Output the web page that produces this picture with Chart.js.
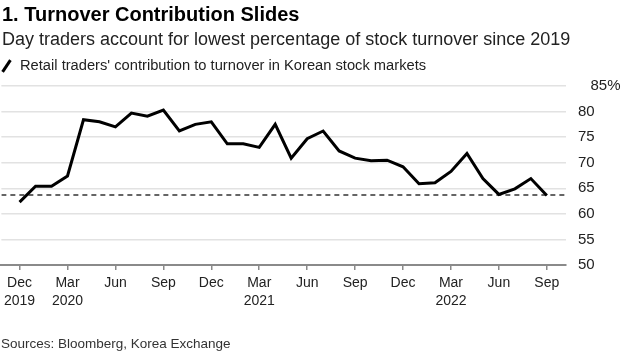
<!DOCTYPE html>
<html>
<head>
<meta charset="utf-8">
<script src="https://cdn.jsdelivr.net/npm/chart.js@4"></script>
<style>
  body { margin: 0; background: #fff; font-family: "Liberation Sans", Arial, sans-serif; }
  #wrap { position: relative; width: 623px; height: 354px; overflow: hidden; }
  canvas { position: absolute; left: 0; top: 0; }
  .txt { position: absolute; white-space: nowrap; }
  #title { left: 2px; top: 2px; font-size: 20px; line-height: 24px; font-weight: bold; color: #000; }
  #subtitle { left: 2px; top: 29px; font-size: 18px; line-height: 20px; color: #222; }
  #legend { left: 20px; top: 56px; font-size: 14.7px; line-height: 18px; color: #222; }
  #slash { position: absolute; left: 5px; top: 59px; width: 3px; height: 14px; background: #000; transform: rotate(34deg); }
  #source { left: 1px; top: 336px; font-size: 13.5px; line-height: 16px; color: #333; }
</style>
</head>
<body>
<div id="wrap">
  <canvas id="turnoverChart" width="623" height="354"></canvas>
  <div class="txt" id="title">1. Turnover Contribution Slides</div>
  <div class="txt" id="subtitle">Day traders account for lowest percentage of stock turnover since 2019</div>
  <div id="slash"></div>
  <div class="txt" id="legend">Retail traders' contribution to turnover in Korean stock markets</div>
  <div class="txt" id="source">Sources: Bloomberg, Korea Exchange</div>
</div>
<script>
// monthly, Dec 2019 .. Sep 2022
const turnoverShare = [
    62.3,
    65.4, 65.4, 67.4, 78.4, 78.0, 77.0, 79.7, 79.1, 80.3, 76.2, 77.5, 78.0,
    73.7, 73.7, 73.0, 77.5, 70.9, 74.7, 76.2, 72.3, 70.9, 70.4, 70.5, 69.2,
    65.9, 66.1, 68.3, 71.8, 66.9, 63.8, 64.9, 66.9, 63.6
];
const lowLevel = 63.7;

const monthTicks = ['Dec', 'Mar', 'Jun', 'Sep', 'Dec', 'Mar', 'Jun', 'Sep', 'Dec', 'Mar', 'Jun', 'Sep'];
const yearTicks = ['2019', '2020', '', '', '', '2021', '', '', '', '2022', '', ''];
const yTicks = [50, 55, 60, 65, 70, 75, 80, 85];

const xMin = -1.14;
const xMax = 34.2;

const ctx = document.getElementById('turnoverChart').getContext('2d');
new Chart(ctx, {
    type: 'line',
    data: {
        datasets: [{
            label: 'Retail share',
            data: turnoverShare.map((v, i) => ({ x: i, y: v })),
            borderColor: '#000',
            borderWidth: 3,
            pointRadius: 0,
            tension: 0,
            order: 1
        }, {
            label: 'Low',
            data: [{ x: xMin, y: lowLevel }, { x: xMax, y: lowLevel }],
            borderColor: '#333',
            borderWidth: 1.5,
            borderDash: [5, 4],
            pointRadius: 0,
            order: 2
        }]
    },
    options: {
        responsive: false,
        animation: false,
        devicePixelRatio: 1,
        layout: { padding: { top: 86, left: 0, right: 0, bottom: 0 } },
        plugins: {
            legend: { display: false },
            tooltip: { enabled: false }
        },
        scales: {
            x: {
                type: 'linear',
                min: xMin,
                max: xMax,
                afterBuildTicks: (scale) => {
                    scale.ticks = monthTicks.map((m, i) => ({ value: i * 3 }));
                },
                afterFit: (scale) => { scale.height = 89; },
                grid: {
                    drawOnChartArea: false,
                    drawTicks: true,
                    tickLength: 5,
                    color: '#8a8a8a',
                    lineWidth: 1.5
                },
                border: { display: true, color: '#8a8a8a', width: 2 },
                ticks: {
                    maxRotation: 0,
                    autoSkip: false,
                    padding: 4,
                    color: '#222',
                    font: { family: 'Liberation Sans', size: 14, lineHeight: 1.3 },
                    callback: (value) => {
                        const i = Math.round(value / 3);
                        return yearTicks[i] ? [monthTicks[i], yearTicks[i]] : monthTicks[i];
                    }
                }
            },
            y: {
                position: 'right',
                min: 50,
                max: 85,
                afterBuildTicks: (scale) => {
                    scale.ticks = yTicks.map(v => ({ value: v }));
                },
                afterFit: (scale) => { scale.width = 57; },
                grid: { color: '#e2e2e2', lineWidth: 1.5, drawTicks: false },
                border: { display: false },
                ticks: {
                    padding: 12,
                    color: '#222',
                    font: { family: 'Liberation Sans', size: 15 },
                    callback: (v) => v === 85 ? '   85%' : String(v)
                }
            }
        }
    }
});
</script>
</body>
</html>
